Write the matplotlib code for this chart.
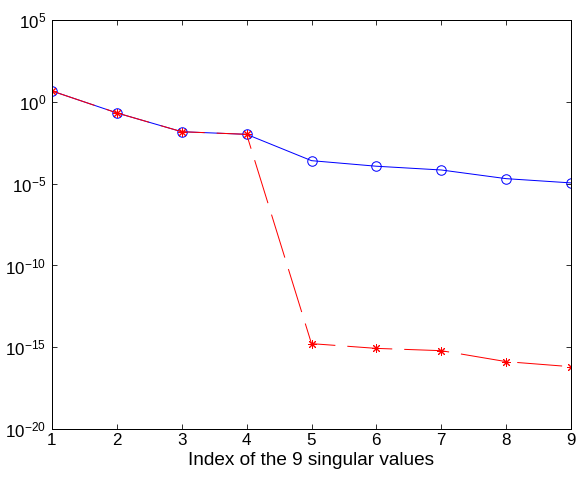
import matplotlib
matplotlib.use("Agg")
import matplotlib.pyplot as plt
import numpy as np
from matplotlib.ticker import FixedLocator, NullLocator

plt.rcParams['font.family'] = ['Liberation Sans', 'DejaVu Sans']
plt.rcParams['mathtext.fontset'] = 'custom'
plt.rcParams['mathtext.rm'] = 'Liberation Sans'

idx = [1, 2, 3, 4, 5, 6, 7, 8, 9]
blue_log = [0.67, -0.67, -1.82, -1.98, -3.59, -3.93, -4.16, -4.69, -4.95]
red_log = [0.67, -0.67, -1.82, -1.98, -14.78, -15.07, -15.21, -15.88, -16.19]
blue_vals = [10 ** v for v in blue_log]
red_vals = [10 ** v for v in red_log]
ytick_exps = [5, 0, -5, -10, -15, -20]
xlabel = "Index of the 9 singular values"

fig = plt.figure(figsize=(8, 483 / 72), dpi=72)
ax = fig.add_axes([52 / 576, 1 - 429 / 483, (571 - 52) / 576, (429 - 20.2) / 483])

ax.semilogy(idx, blue_vals, '-', color='#0000ff', lw=1.0, marker='o', ms=9.5,
            mfc='none', mec='#0000ff', mew=1.0)
ax.semilogy(idx, red_vals, color='#ff0000', lw=1.0, marker=(8, 2, 0), ms=9,
            mfc='none', mec='#ff0000', mew=1.0, dashes=(45, 12))

ax.set_xlim(1, 9)
ax.set_ylim(1e-20, 1e5)
ax.xaxis.set_major_locator(FixedLocator(idx))
ax.set_xticklabels([str(i) for i in idx])
ax.yaxis.set_major_locator(FixedLocator([10.0 ** e for e in ytick_exps]))
ax.yaxis.set_minor_locator(NullLocator())
ax.set_yticklabels([r'$\mathregular{10^{%d}}$' % e for e in ytick_exps])
ax.tick_params(direction='in', length=5, width=0.8, labelsize=17, top=True, right=True)
ax.tick_params(axis='y', pad=6)
ax.tick_params(axis='x', pad=4)
for s in ax.spines.values():
    s.set_linewidth(1.0)
ax.set_xlabel(xlabel, fontsize=19, labelpad=4)

fig.savefig("out.png", dpi=72)
